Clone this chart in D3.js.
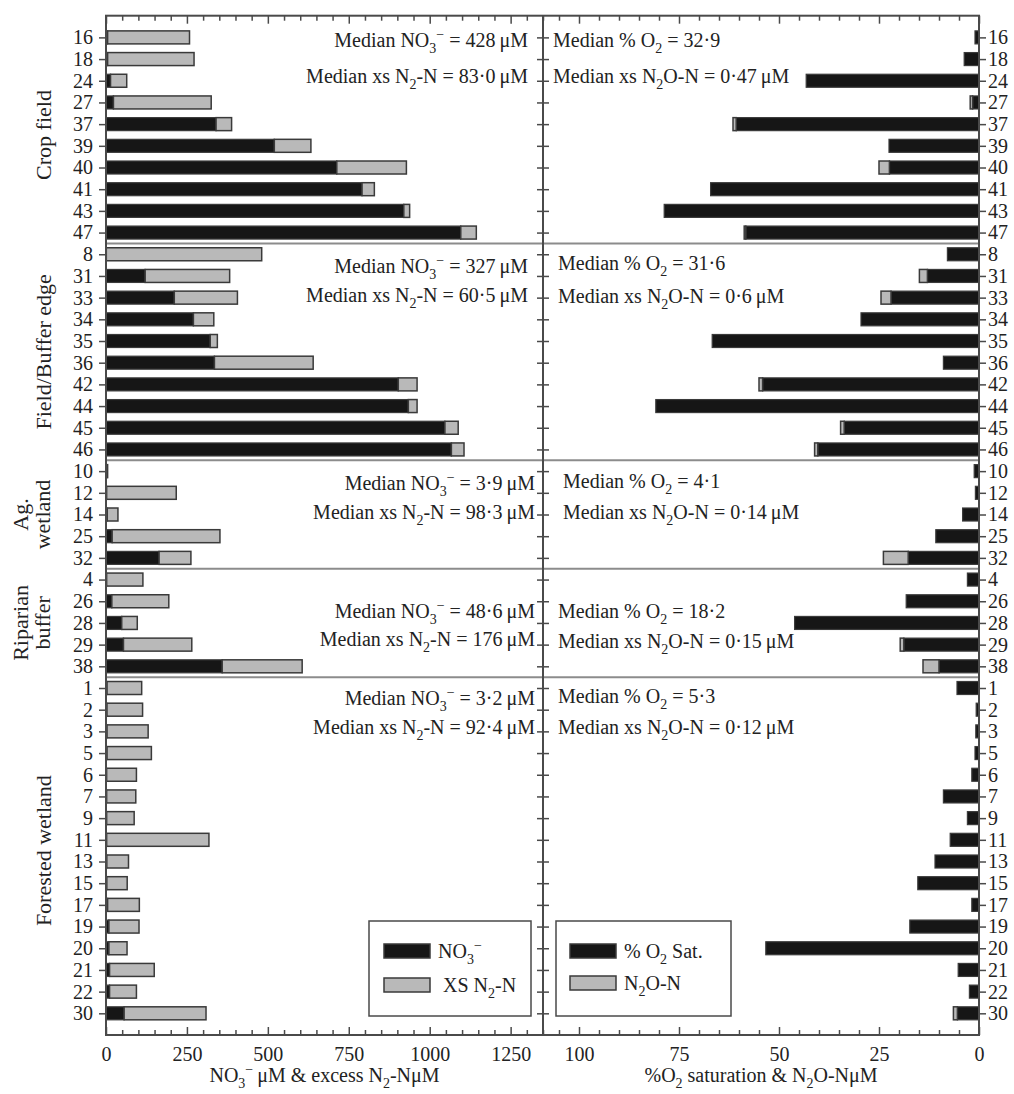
<!DOCTYPE html>
<html>
<head>
<meta charset="utf-8">
<script src="https://cdn.jsdelivr.net/npm/d3@7"></script>
<style>
  html, body { margin: 0; padding: 0; background: #fff; }
  svg text { font-family: "Liberation Serif", "DejaVu Serif", serif; fill: #222; }
</style>
</head>
<body>
<svg id="chart" width="1014" height="1094"></svg>
<script>
// ---------------- DATA ----------------
const groupNames = ["Crop field", "Field/Buffer edge", "Ag. wetland", "Riparian buffer", "Forested wetland"];
const groupLabelLines = [["Crop field"], ["Field/Buffer edge"], ["Ag.", "wetland"], ["Riparian", "buffer"], ["Forested wetland"]];

const sites = ["16","18","24","27","37","39","40","41","43","47",
               "8","31","33","34","35","36","42","44","45","46",
               "10","12","14","25","32",
               "4","26","28","29","38",
               "1","2","3","5","6","7","9","11","13","15","17","19","20","21","22","30"];
const siteGroup = [0,0,0,0,0,0,0,0,0,0,
                   1,1,1,1,1,1,1,1,1,1,
                   2,2,2,2,2,
                   3,3,3,3,3,
                   4,4,4,4,4,4,4,4,4,4,4,4,4,4,4,4];

// NO3- (µM), black segment, left panel
const no3 = [5,5,14,23,340,520,713,791,920,1096,
             1,121,211,270,322,335,903,934,1047,1067,
             3,2,3.9,19,164,
             2,18,48.6,54,359,
             3.2,3,3.2,3.2,2,2,2,2,2.5,2.5,5,9,9,11,11,56];
// excess N2-N (µM), grey segment stacked on NO3-
const xsN2 = [253,267,50,302,48,113,215,38,18,48,
              480,261,195,63,22,305,58,27,41,39,
              2,215,33,333,98.3,
              112,176,48,211,247,
              107,110,127,137,92,90,85,316,67,63,98,93,56,138,83,253];
// % O2 saturation, black segment, right panel
const o2 = [1.0,3.7,43.2,1.6,60.7,22.5,22.4,67.1,78.7,58.3,
            7.9,12.9,22,29.5,66.7,8.9,54.1,80.8,33.7,40.3,
            1.2,0.9,4.1,10.8,17.7,
            2.9,18.2,46.1,18.8,10,
            5.5,0.7,0.8,1.0,1.8,8.9,2.9,7.2,11.0,15.3,1.8,17.3,53.3,5.2,2.4,5.4];
// N2O-N (µM), grey segment stacked on O2
const n2o = [0,0,0,0.6,0.8,0,2.6,0,0,0.4,
             0,2.0,2.5,0,0,0,0.9,0,0.9,0.8,
             0,0,0,0,6.2,
             0,0,0,0.9,4,
             0,0,0,0,0,0,0,0,0,0,0,0,0,0,0,1.0];

const medNO3 = ["428", "327", "3·9", "48·6", "3·2"];
const medN2  = ["83·0", "60·5", "98·3", "176", "92·4"];
const medO2  = ["32·9", "31·6", "4·1", "18·2", "5·3"];
const medN2O = ["0·47", "0·6", "0·14", "0·15", "0·12"];

const leftTicks = [0, 250, 500, 750, 1000, 1250];
const rightTicks = [100, 75, 50, 25, 0];

// ---------------- LAYOUT ----------------
const L0 = 106, MID = 543, R1 = 979, TOP = 15.7, BOT = 1035;
const BLACK = "#161616", GREY = "#b9b9b9", EDGE = "#3a3a3a", FRAME = "#4a4a4a";
const FS = 20;
const TH = "\u2009";

const svg = d3.select("#chart");

const y = d3.scalePoint().domain(d3.range(sites.length)).range([TOP, BOT]).padding(1);
const xL = d3.scaleLinear().domain([0, 1350]).range([L0, MID]);
const xR = d3.scaleLinear().domain([0, 109]).range([R1, MID]);
const BH = 13;

// rich text helper: parts = [[text, mode]], mode: n | sub | sup
function rich(g, parts, x, yy, anchor, fs) {
  const t = g.append("text").attr("x", x).attr("y", yy).attr("text-anchor", anchor).attr("font-size", fs);
  let off = 0;
  parts.forEach(([s, m]) => {
    const target = m === "sub" ? 0.3 * fs : m === "sup" ? -0.42 * fs : 0;
    const ts = t.append("tspan").text(s).attr("dy", target - off);
    if (m !== "n") ts.attr("font-size", fs * 0.7);
    off = target;
  });
  return t;
}

// ---------------- BARS ----------------
const gBars = svg.append("g");
sites.forEach((s, i) => {
  const yc = y(i);
  if (no3[i] > 0) gBars.append("rect").attr("x", xL(0)).attr("y", yc - BH/2)
    .attr("width", xL(no3[i]) - xL(0)).attr("height", BH)
    .attr("fill", BLACK).attr("stroke", EDGE).attr("stroke-width", 1.2);
  if (xsN2[i] > 0) gBars.append("rect").attr("x", xL(no3[i])).attr("y", yc - BH/2)
    .attr("width", xL(no3[i] + xsN2[i]) - xL(no3[i])).attr("height", BH)
    .attr("fill", GREY).attr("stroke", EDGE).attr("stroke-width", 1.5);
  if (o2[i] > 0) gBars.append("rect").attr("x", xR(o2[i])).attr("y", yc - BH/2)
    .attr("width", xR(0) - xR(o2[i])).attr("height", BH)
    .attr("fill", BLACK).attr("stroke", EDGE).attr("stroke-width", 1.2);
  if (n2o[i] > 0) gBars.append("rect").attr("x", xR(o2[i] + n2o[i])).attr("y", yc - BH/2)
    .attr("width", xR(o2[i]) - xR(o2[i] + n2o[i])).attr("height", BH)
    .attr("fill", GREY).attr("stroke", EDGE).attr("stroke-width", 1.5);
});

// ---------------- GROUP DIVIDERS ----------------
const groupFirst = groupNames.map((_, g) => siteGroup.indexOf(g));
const groupLast = groupNames.map((_, g) => siteGroup.lastIndexOf(g));
for (let g = 0; g < groupNames.length - 1; g++) {
  const yy = (y(groupLast[g]) + y(groupFirst[g + 1])) / 2;
  svg.append("line").attr("x1", L0).attr("x2", R1).attr("y1", yy).attr("y2", yy)
    .attr("stroke", "#8c8c8c").attr("stroke-width", 2);
}

// ---------------- FRAME ----------------
svg.append("rect").attr("x", L0).attr("y", TOP).attr("width", R1 - L0).attr("height", BOT - TOP)
  .attr("fill", "none").attr("stroke", FRAME).attr("stroke-width", 2);
svg.append("line").attr("x1", MID).attr("x2", MID).attr("y1", TOP).attr("y2", BOT)
  .attr("stroke", FRAME).attr("stroke-width", 2);

// ---------------- AXES ----------------
function minorAxis(axisFn, scale, vals, size, ty) {
  const a = axisFn(scale).tickValues(vals).tickSize(size).tickFormat("");
  const g = svg.append("g").attr("transform", `translate(0,${ty})`).call(a);
  g.select(".domain").remove();
  g.selectAll(".tick line").attr("stroke", FRAME).attr("stroke-width", 1.5);
}
const leftMinor = d3.range(0, 1351, 50).filter(v => v % 250 !== 0);
const rightMinor = d3.range(0, 110, 5).filter(v => v % 25 !== 0);
const axBL = svg.append("g").attr("transform", `translate(0,${BOT})`)
  .call(d3.axisBottom(xL).tickValues(leftTicks).tickSize(-8).tickPadding(12).tickFormat(d3.format("d")));
const axBR = svg.append("g").attr("transform", `translate(0,${BOT})`)
  .call(d3.axisBottom(xR).tickValues(rightTicks).tickSize(-8).tickPadding(12).tickFormat(d3.format("d")));
minorAxis(d3.axisBottom, xL, leftMinor, -5, BOT);
minorAxis(d3.axisBottom, xR, rightMinor, -5, BOT);
const axTL = svg.append("g").attr("transform", `translate(0,${TOP})`)
  .call(d3.axisTop(xL).tickValues(leftTicks).tickSize(-8).tickFormat(""));
const axTR = svg.append("g").attr("transform", `translate(0,${TOP})`)
  .call(d3.axisTop(xR).tickValues(rightTicks).tickSize(-8).tickFormat(""));
minorAxis(d3.axisTop, xL, leftMinor, -5, TOP);
minorAxis(d3.axisTop, xR, rightMinor, -5, TOP);
[axBL, axBR, axTL, axTR].forEach(a => {
  a.select(".domain").remove();
  a.selectAll(".tick line").attr("stroke", FRAME).attr("stroke-width", 1.5);
  a.selectAll(".tick text").attr("font-size", FS).attr("font-family", "Liberation Serif").attr("fill", "#222");
});

const axYL = svg.append("g").attr("transform", `translate(${L0},0)`)
  .call(d3.axisLeft(y).tickSize(7).tickPadding(6).tickFormat(i => sites[i]));
const axYR = svg.append("g").attr("transform", `translate(${R1},0)`)
  .call(d3.axisRight(y).tickSize(7).tickPadding(2).tickFormat(i => sites[i]));
const axYM = svg.append("g").attr("transform", `translate(${MID + 6},0)`)
  .call(d3.axisLeft(y).tickSize(12).tickFormat(""));
[axYL, axYR, axYM].forEach(a => {
  a.select(".domain").remove();
  a.selectAll(".tick line").attr("stroke", FRAME).attr("stroke-width", 1.5);
  a.selectAll(".tick text").attr("font-size", FS).attr("font-family", "Liberation Serif").attr("fill", "#222");
});

// group labels (rotated)
const glX = [[44], [44], [21, 43], [21, 43], [44]];
groupLabelLines.forEach((lines, g) => {
  const yc = (y(groupFirst[g]) + y(groupLast[g])) / 2;
  lines.forEach((ln, k) => {
    svg.append("text").attr("transform", `translate(${glX[g][k] + 7},${yc}) rotate(-90)`)
      .attr("text-anchor", "middle").attr("font-size", 22).text(ln);
  });
});

// ---------------- MEDIAN ANNOTATIONS ----------------
const annL = [[40, 76], [266, 295], [483, 512], [611, 639], [698, 727]];
const annLx = [528, 528, 535, 535, 535];
const annR = [[40, 76], [263, 296], [481, 512], [611, 641], [696, 727]];
const annRx = [553, 558, 563, 558, 558];
const gAnn = svg.append("g");
groupNames.forEach((_, g) => {
  rich(gAnn, [["Median NO", "n"], ["3", "sub"], ["−", "sup"], [" = " + medNO3[g] + TH + "μM", "n"]],
    annLx[g], annL[g][0] + 7, "end", FS);
  rich(gAnn, [["Median xs N", "n"], ["2", "sub"], ["-N = " + medN2[g] + TH + "μM", "n"]],
    annLx[g], annL[g][1] + 7, "end", FS);
  rich(gAnn, [["Median % O", "n"], ["2", "sub"], [" = " + medO2[g], "n"]],
    annRx[g], annR[g][0] + 7, "start", FS);
  rich(gAnn, [["Median xs N", "n"], ["2", "sub"], ["O-N = " + medN2O[g] + TH + "μM", "n"]],
    annRx[g], annR[g][1] + 7, "start", FS);
});

// ---------------- LEGENDS ----------------
const legY = 921, legH = 95;
svg.append("rect").attr("x", 369).attr("y", legY).attr("width", 162).attr("height", legH)
  .attr("fill", "#fff").attr("stroke", FRAME).attr("stroke-width", 1.5);
svg.append("rect").attr("x", 556).attr("y", legY).attr("width", 175).attr("height", legH)
  .attr("fill", "#fff").attr("stroke", FRAME).attr("stroke-width", 1.5);
const sw = [[384, 951, BLACK], [384, 985, GREY], [570, 951, BLACK], [570, 983, GREY]];
sw.forEach(([x, yy, c]) => svg.append("rect").attr("x", x).attr("y", yy - 7).attr("width", 46).attr("height", 14)
  .attr("fill", c).attr("stroke", EDGE).attr("stroke-width", 1.5));
const gLeg = svg.append("g");
rich(gLeg, [["NO", "n"], ["3", "sub"], ["−", "sup"]], 438, 951 + 7, "start", FS);
rich(gLeg, [["XS N", "n"], ["2", "sub"], ["-N", "n"]], 443, 985 + 7, "start", FS);
rich(gLeg, [["% O", "n"], ["2", "sub"], [" Sat.", "n"]], 624, 951 + 7, "start", FS);
rich(gLeg, [["N", "n"], ["2", "sub"], ["O-N", "n"]], 624, 983 + 7, "start", FS);

// ---------------- AXIS TITLES ----------------
rich(svg, [["NO", "n"], ["3", "sub"], ["−", "sup"], [TH + "μM & excess N", "n"], ["2", "sub"], ["-NμM", "n"]],
  (L0 + MID) / 2, 1082, "middle", FS);
rich(svg, [["%O", "n"], ["2", "sub"], [" saturation & N", "n"], ["2", "sub"], ["O-NμM", "n"]],
  (MID + R1) / 2, 1082, "middle", FS);
</script>
</body>
</html>
